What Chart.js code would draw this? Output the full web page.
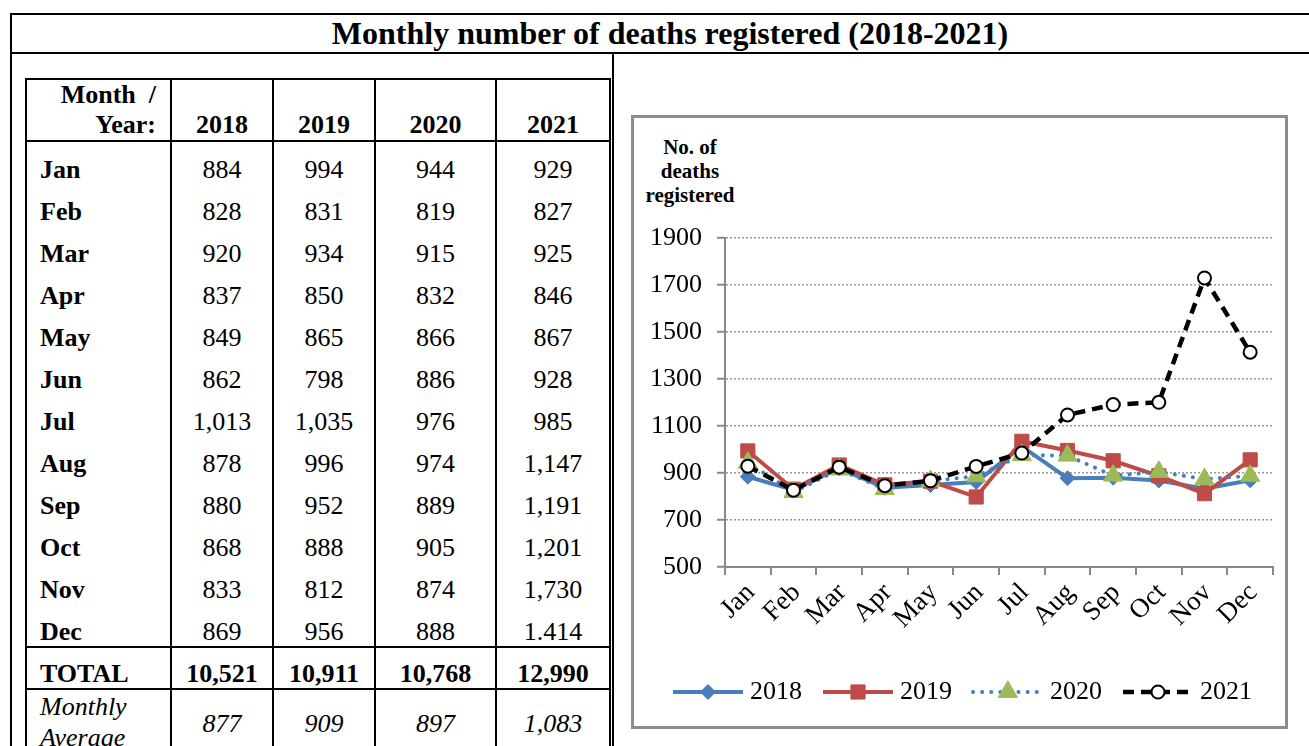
<!DOCTYPE html>
<html>
<head>
<meta charset="utf-8">
<script src="https://cdn.jsdelivr.net/npm/chart.js@4.4.1/dist/chart.umd.min.js"></script>
<style>
body { margin: 0; background: #fff; width: 1309px; height: 746px; overflow: hidden; position: relative;
       font-family: "Liberation Serif", "Times New Roman", serif; color: #000; }
#frame { position: absolute; left: 10px; top: 13px; width: 1320px; height: 800px; border: 2px solid #000; box-sizing: border-box; }
#title { position: absolute; left: 10px; top: 13px; width: 1320px; height: 41px; border-bottom: 2px solid #000;
         box-sizing: border-box; text-align: center; font-weight: bold; font-size: 32px; line-height: 40px; }
#divider { position: absolute; left: 612px; top: 53px; width: 2px; height: 800px; background: #000; }
#tbl { position: absolute; left: 25px; top: 78px; border-collapse: collapse; table-layout: fixed; width: 584px; font-size: 26px; }
#tbl td { border-left: 2px solid #000; border-right: 2px solid #000; padding: 0; text-align: center;
          vertical-align: bottom; line-height: 28px; height: 42px; }
#tbl tr.head td { border-top: 2px solid #000; border-bottom: 2px solid #000; height: 59px; font-weight: bold; font-size: 26px; line-height: 30px; }
#tbl tr.head td:first-child { text-align: right; padding-right: 14px; }
#tbl td.m { text-align: left; padding-left: 13px; font-weight: bold; font-size: 26px; }
#tbl tr.total td { border-top: 2px solid #000; border-bottom: 2px solid #000; font-weight: bold; font-size: 26px; height: 40px; }
#tbl tr.avg td { font-style: italic; vertical-align: middle; height: 65px; line-height: 31px; }
#box { position: absolute; left: 631px; top: 115px; width: 657px; height: 614px; border: 3px solid #8c8c8c; box-sizing: border-box; }
#ytitle { position: absolute; left: 630px; top: 135px; width: 120px; text-align: center; font-weight: bold; font-size: 21px; line-height: 24px; }
#chartWrap { position: absolute; left: 634px; top: 118px; width: 651px; height: 608px; }
</style>
</head>
<body>
<div id="frame"></div>
<div id="title">Monthly number of deaths registered (2018-2021)</div>
<div id="divider"></div>
<table id="tbl">
  <colgroup><col style="width:145px"><col style="width:102px"><col style="width:102px"><col style="width:121px"><col style="width:114px"></colgroup>
  <tbody id="tbody"></tbody>
</table>
<div id="box"></div>
<div id="ytitle">No. of<br>deaths<br>registered</div>
<div id="chartWrap"><canvas id="chart"></canvas></div>

<script>
const months = ['Jan', 'Feb', 'Mar', 'Apr', 'May', 'Jun', 'Jul', 'Aug', 'Sep', 'Oct', 'Nov', 'Dec'];
const years = ['2018', '2019', '2020', '2021'];
const deaths2018 = [884, 828, 920, 837, 849, 862, 1013, 878, 880, 868, 833, 869];
const deaths2019 = [994, 831, 934, 850, 865, 798, 1035, 996, 952, 888, 812, 956];
const deaths2020 = [944, 819, 915, 832, 866, 886, 976, 974, 889, 905, 874, 888];
const deaths2021 = [929, 827, 925, 846, 867, 928, 985, 1147, 1191, 1201, 1730, 1414];
const totals = [10521, 10911, 10768, 12990];
const averages = [877, 909, 897, 1083];
const yTickValues = [500, 700, 900, 1100, 1300, 1500, 1700, 1900];

// the source table prints Dec 2021 with a full stop
const cellOverrides = { '11-3': '1.414' };

const fmt = v => v.toLocaleString('en-US');

// ---- table ----
const series = [deaths2018, deaths2019, deaths2020, deaths2021];
const tbody = document.getElementById('tbody');
let html = '<tr class="head"><td>Month&nbsp; /<br>Year:</td>' + years.map(y => '<td>' + y + '</td>').join('') + '</tr>';
months.forEach((m, i) => {
    html += '<tr><td class="m">' + m + '</td>';
    series.forEach((s, j) => {
        html += '<td>' + (cellOverrides[i + '-' + j] || fmt(s[i])) + '</td>';
    });
    html += '</tr>';
});
html += '<tr class="total"><td class="m">TOTAL</td>' + totals.map(t => '<td>' + fmt(t) + '</td>').join('') + '</tr>';
html += '<tr class="avg"><td class="m" style="font-weight:normal;vertical-align:top;padding-top:1px">Monthly<br>Average</td>' +
        averages.map(a => '<td>' + fmt(a) + '</td>').join('') + '</tr>';
tbody.innerHTML = html;

// ---- chart ----
const blue = '#4a7ebb', red = '#be4b48', green = '#9bbb59';

function drawMarker(g, style, r, x, y, fill, stroke, bw) {
    g.beginPath();
    if (style === 'rectRot') {
        g.moveTo(x - r, y); g.lineTo(x, y - r); g.lineTo(x + r, y); g.lineTo(x, y + r);
    } else if (style === 'rect') {
        const s = r * Math.SQRT1_2;
        g.rect(x - s, y - s, 2 * s, 2 * s);
    } else if (style === 'triangle') {
        for (let k = 0; k < 3; k++) {
            const a = k * 2 * Math.PI / 3;
            g[k ? 'lineTo' : 'moveTo'](x + Math.sin(a) * r, y - Math.cos(a) * r);
        }
    } else {
        g.arc(x, y, r, 0, Math.PI * 2);
    }
    g.closePath();
    g.fillStyle = fill; g.fill();
    g.setLineDash([]);
    g.lineWidth = bw; g.strokeStyle = stroke; g.stroke();
}

// legend swatch: line with the marker in the middle, drawn a bit right of centre
// so it sits close to its label
function legendIcon(ds) {
    const c = document.createElement('canvas');
    c.width = 88; c.height = 26;
    const g = c.getContext('2d');
    g.strokeStyle = ds.borderColor;
    g.lineWidth = ds.borderWidth;
    g.lineCap = ds.borderCapStyle || 'butt';
    g.setLineDash(ds.borderDash || []);
    g.beginPath(); g.moveTo(13, 13); g.lineTo(83, 13); g.stroke();
    drawMarker(g, ds.pointStyle, ds.pointRadius, 48, 13, ds.pointBackgroundColor, ds.pointBorderColor, ds.pointBorderWidth);
    return c;
}

const datasets = [
    { label: years[0], data: deaths2018, borderColor: blue, borderWidth: 4, pointStyle: 'rectRot', pointRadius: 7.5,
      pointBackgroundColor: blue, pointBorderColor: blue, pointBorderWidth: 1, order: 3 },
    { label: years[1], data: deaths2019, borderColor: red, borderWidth: 4, pointStyle: 'rect', pointRadius: 10,
      pointBackgroundColor: red, pointBorderColor: red, pointBorderWidth: 1, order: 2 },
    { label: years[2], data: deaths2020, borderColor: blue, borderWidth: 4, borderDash: [0.1, 9], borderCapStyle: 'round',
      pointStyle: 'triangle', pointRadius: 11, pointBackgroundColor: green, pointBorderColor: green, pointBorderWidth: 1, order: 1 },
    { label: years[3], data: deaths2021, borderColor: '#000', borderWidth: 4.5, borderDash: [11, 7],
      pointStyle: 'circle', pointRadius: 6.5, pointBackgroundColor: '#fff', pointBorderColor: '#000', pointBorderWidth: 2, order: 0 }
];
datasets.forEach(d => { d.tension = 0; d.fill = false; d.pointHoverRadius = d.pointRadius; });

const font = 'Liberation Serif';

new Chart(document.getElementById('chart'), {
    type: 'line',
    data: { labels: months, datasets: datasets },
    options: {
        responsive: true,
        maintainAspectRatio: false,
        animation: false,
        layout: { padding: { top: 120, right: 8, left: 12, bottom: 11 } },
        plugins: {
            tooltip: { enabled: false },
            legend: {
                position: 'bottom',
                labels: {
                    usePointStyle: true,
                    pointStyleWidth: 66,
                    padding: 19,
                    color: '#000',
                    font: { family: font, size: 26 },
                    generateLabels: chart => chart.data.datasets.map((ds, i) => ({
                        text: ds.label, pointStyle: legendIcon(ds), datasetIndex: i,
                        fillStyle: 'transparent', strokeStyle: 'transparent', lineWidth: 0, fontColor: '#000'
                    }))
                }
            }
        },
        scales: {
            x: {
                offset: true,
                grid: { offset: true, drawOnChartArea: false, tickLength: 8, color: '#888', lineWidth: 2 },
                border: { color: '#888', width: 2 },
                ticks: { autoSkip: false, minRotation: 45, maxRotation: 45, padding: 2, labelOffset: 3, color: '#000',
                         font: { family: font, size: 27 } },
                afterFit: s => { s.height = 93; }
            },
            y: {
                min: 500,
                max: 1900,
                afterBuildTicks: s => { s.ticks = yTickValues.map(v => ({ value: v })); },
                grid: { color: '#999', lineWidth: 1.5, tickLength: 8, tickColor: '#888', tickWidth: 2, tickBorderDash: [] },
                border: { color: '#888', width: 2, dash: [2, 2] },
                ticks: { padding: 15, color: '#000', font: { family: font, size: 26 }, callback: v => String(v) },
                afterFit: s => { s.width = 79; }
            }
        }
    }
});
</script>
</body>
</html>
